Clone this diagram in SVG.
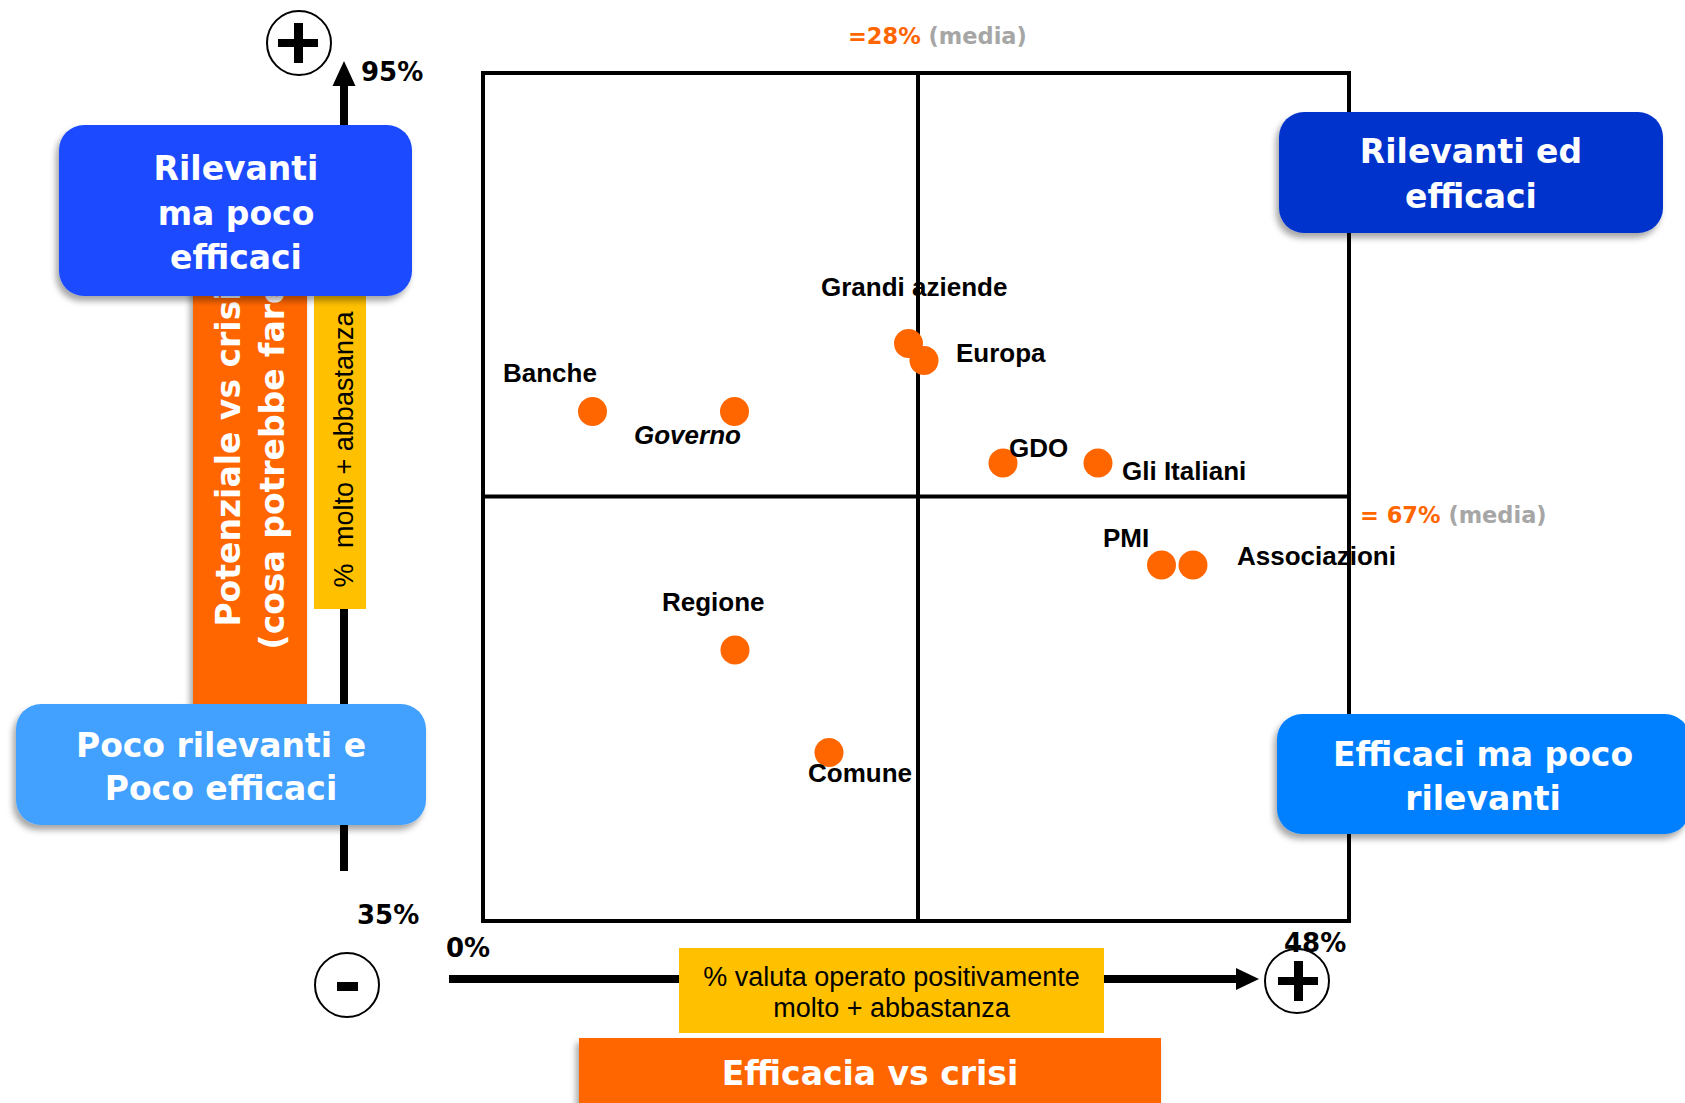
<svg xmlns="http://www.w3.org/2000/svg" width="1685" height="1103" viewBox="0 0 1685 1103">
<style>
.bx{font-family:"DejaVu Sans",Verdana,sans-serif;font-weight:bold;font-size:33px;fill:#fff;text-anchor:middle}
.pl{font-family:"Liberation Sans",Arial,sans-serif;font-weight:bold;font-size:26px;fill:#000}
.pc{font-family:"DejaVu Sans",Verdana,sans-serif;font-weight:bold;font-size:26px;fill:#000}
.md{font-family:"DejaVu Sans",Verdana,sans-serif;font-weight:bold;font-size:22.5px}
.ax{font-family:"Liberation Sans",Arial,sans-serif;font-size:27px;fill:#000;text-anchor:middle}
.dot{fill:#FF6600}
.grid{fill:none;stroke:#000;stroke-width:4}
.sym{fill:#fff;stroke:#000;stroke-width:2}
</style>
<defs>
<filter id="sh" x="-10%" y="-10%" width="125%" height="130%">
<feDropShadow dx="-3" dy="5" stdDeviation="3" flood-color="#000" flood-opacity="0.35"/>
</filter>
</defs>
<rect width="1685" height="1103" fill="#fff"/>

<g id="grid">
<rect class="grid" x="483" y="73" width="866" height="848"/>
<line class="grid" x1="918" y1="73" x2="918" y2="921"/>
<line class="grid" x1="483" y1="496.5" x2="1349" y2="496.5"/>
</g>

<g id="connectors">
<rect x="340" y="84" width="8" height="787" fill="#000"/>
<polygon points="344,61 332.5,86 355.5,86" fill="#000"/>
<rect x="449" y="975" width="789" height="8" fill="#000"/>
<polygon points="1259,979 1236,968 1236,990" fill="#000"/>
</g>

<g id="asse-y">
<rect x="193" y="280" width="114" height="430" fill="#FF6600" filter="url(#sh)"/>
<text class="bx" transform="translate(240,458) rotate(-90)">Potenziale vs crisi</text>
<text class="bx" transform="translate(284,458) rotate(-90)">(cosa potrebbe fare)</text>
<rect x="314" y="280" width="52" height="329" fill="#FFC000"/>
<text class="ax" transform="translate(353,449.5) rotate(-90)">% <tspan dx="8">molto + abbastanza</tspan></text>
</g>

<g id="box-rilevanti-poco-efficaci">
<rect x="59" y="125" width="353" height="171" rx="25" fill="#1A4CFF" filter="url(#sh)"/>
<text class="bx" x="236" y="180">Rilevanti</text>
<text class="bx" x="236" y="225">ma poco</text>
<text class="bx" x="236" y="269">efficaci</text>
</g>

<g id="box-rilevanti-efficaci">
<rect x="1279" y="112" width="384" height="121" rx="25" fill="#0033CC" filter="url(#sh)"/>
<text class="bx" x="1471" y="163">Rilevanti ed</text>
<text class="bx" x="1471" y="208">efficaci</text>
</g>

<g id="box-poco-rilevanti-poco-efficaci">
<rect x="16" y="704" width="410" height="121" rx="25" fill="#42A1FF" filter="url(#sh)"/>
<text class="bx" x="221" y="757">Poco rilevanti e</text>
<text class="bx" x="221" y="800">Poco efficaci</text>
</g>

<g id="box-efficaci-poco-rilevanti">
<rect x="1277" y="714" width="413" height="120" rx="25" fill="#0080FF" filter="url(#sh)"/>
<text class="bx" x="1483" y="766">Efficaci ma poco</text>
<text class="bx" x="1483" y="810">rilevanti</text>
</g>

<g id="simbolo-piu-alto">
<circle class="sym" cx="299" cy="43" r="32"/>
<rect x="278" y="39" width="40" height="8" fill="#000"/>
<rect x="294" y="23" width="9" height="40" fill="#000"/>
</g>
<g id="simbolo-meno">
<circle class="sym" cx="347" cy="985" r="32"/>
<rect x="337" y="982" width="21" height="9" fill="#000"/>
</g>
<g id="simbolo-piu-destra">
<circle class="sym" cx="1297" cy="981" r="32"/>
<rect x="1278" y="977" width="40" height="8" fill="#000"/>
<rect x="1294" y="961" width="9" height="40" fill="#000"/>
</g>

<g id="asse-x">
<rect x="679" y="948" width="425" height="85" fill="#FFC000"/>
<text class="ax" x="891.5" y="986">% valuta operato positivamente</text>
<text class="ax" x="891.5" y="1017">molto + abbastanza</text>
<rect x="579" y="1038" width="582" height="75" fill="#FF6600" filter="url(#sh)"/>
<text class="bx" x="870" y="1085">Efficacia vs crisi</text>
</g>

<g id="scala">
<text class="pc" x="361" y="81">95%</text>
<text class="pc" x="357" y="924">35%</text>
<text class="pc" x="446" y="957">0%</text>
<text class="pc" x="1284" y="952">48%</text>
<text class="md" x="848" y="44"><tspan fill="#FF6600">=28%</tspan><tspan fill="#A6A6A6"> (media)</tspan></text>
<text class="md" x="1360" y="523"><tspan fill="#FF6600">= 67%</tspan><tspan fill="#A6A6A6"> (media)</tspan></text>
</g>

<g id="banche"><circle class="dot" cx="592.5" cy="411.5" r="14.5"/><text class="pl" x="503" y="382">Banche</text></g>
<g id="governo"><circle class="dot" cx="734.5" cy="411.5" r="14.5"/><text class="pl" x="634" y="444" font-style="italic">Governo</text></g>
<g id="grandi-aziende"><circle class="dot" cx="908.5" cy="343.5" r="14.5"/><text class="pl" x="821" y="296">Grandi aziende</text></g>
<g id="europa"><circle class="dot" cx="924" cy="360.5" r="14.5"/><text class="pl" x="956" y="362">Europa</text></g>
<g id="gdo"><circle class="dot" cx="1003" cy="463" r="14.5"/><text class="pl" x="1009" y="457">GDO</text></g>
<g id="gli-italiani"><circle class="dot" cx="1098" cy="463" r="14.5"/><text class="pl" x="1122" y="480">Gli Italiani</text></g>
<g id="pmi"><circle class="dot" cx="1161.5" cy="565" r="14.5"/><text class="pl" x="1103" y="547">PMI</text></g>
<g id="associazioni"><circle class="dot" cx="1193" cy="565" r="14.5"/><text class="pl" x="1237" y="565">Associazioni</text></g>
<g id="regione"><circle class="dot" cx="735" cy="650" r="14.5"/><text class="pl" x="662" y="611">Regione</text></g>
<g id="comune"><circle class="dot" cx="829" cy="752.5" r="14.5"/><text class="pl" x="808" y="782">Comune</text></g>
</svg>
